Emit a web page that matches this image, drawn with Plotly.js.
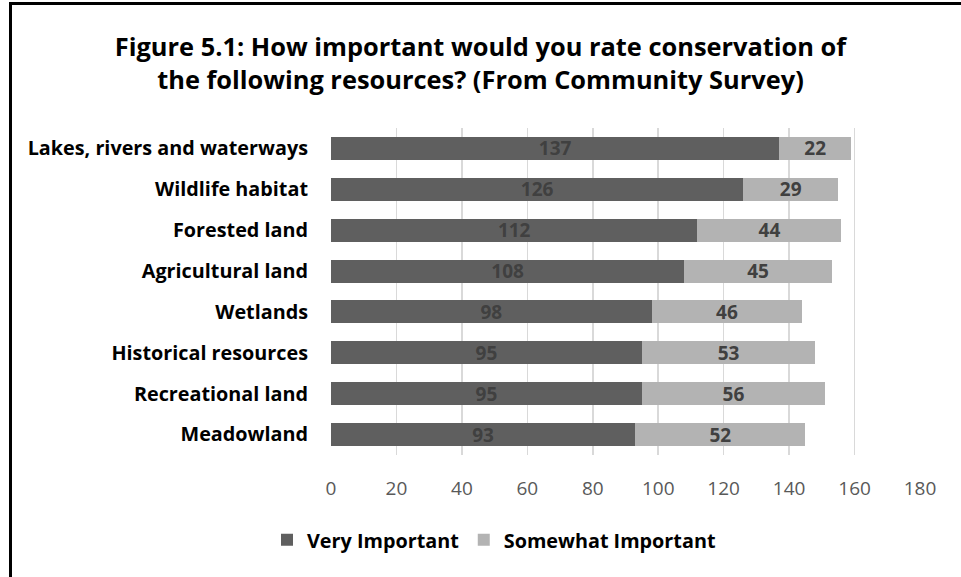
<!DOCTYPE html>
<html>
<head>
<meta charset="utf-8">
<script src="https://cdn.plot.ly/plotly-3.0.1.min.js"></script>
<style>
html, body { margin:0; padding:0; background:#fff; }
#wrap { position:relative; width:961px; height:577px; }
#chart { width:961px; height:577px; }
#frame { position:absolute; left:9px; top:2px; right:0; bottom:0; border-left:3px solid #000; border-top:3px solid #000; pointer-events:none; }
</style>
</head>
<body>
<div id="wrap"><div id="chart"></div><div id="frame"></div></div>
<script>
const categories = ["Lakes, rivers and waterways","Wildlife habitat","Forested land","Agricultural land","Wetlands","Historical resources","Recreational land","Meadowland"];
const veryImportant = [137,126,112,108,98,95,95,93];
const somewhatImportant = [22,29,44,45,46,53,56,52];
const xTicks = [0,20,40,60,80,100,120,140,160,180];

const FONT = "'Open Sans', sans-serif";

const traces = [
  {
    type:'bar', orientation:'h', name:'Very Important',
    y: categories, x: veryImportant,
    marker:{color:'#5f5f5f'},
    text: veryImportant.map(String), textposition:'inside', insidetextanchor:'middle',
    textangle:0, constraintext:'none',
    textfont:{family:FONT, size:19, color:'#404040', weight:'bold'},
    hoverinfo:'x+name'
  },
  {
    type:'bar', orientation:'h', name:'Somewhat Important',
    y: categories, x: somewhatImportant,
    marker:{color:'#b3b3b3'},
    text: somewhatImportant.map(String), textposition:'inside', insidetextanchor:'middle',
    textangle:0, constraintext:'none',
    textfont:{family:FONT, size:19, color:'#404040', weight:'bold'},
    hoverinfo:'x+name'
  }
];

const layout = {
  width:961, height:577,
  margin:{l:331, r:41, t:128, b:122},
  paper_bgcolor:'#fff', plot_bgcolor:'#fff',
  barmode:'stack', bargap:0.44,
  font:{family:FONT, color:'#000'},
  title:{
    text:'<b>Figure 5.1: How important would you rate conservation of<br>the following resources? (From Community Survey)</b>',
    font:{family:FONT, size:25.4, color:'#000'},
    x:0.5, xref:'container', xanchor:'center',
    y:1-56/577, yref:'container', yanchor:'middle'
  },
  xaxis:{
    range:[0,180], tickvals:xTicks, ticktext:xTicks.map(String),
    showgrid:true, gridcolor:'#d9d9d9', gridwidth:1.5,
    zeroline:false, showline:false,
    tickfont:{family:FONT, size:19, color:'#595959'},
    ticks:'', ticklabelstandoff:20, fixedrange:true
  },
  yaxis:{
    categoryorder:'array', categoryarray:categories, autorange:'reversed',
    showgrid:false, zeroline:false, showline:false,
    tickfont:{family:FONT, size:19.8, color:'#000', weight:'bold'},
    ticks:'', ticklabelstandoff:22, fixedrange:true
  },
  showlegend:true,
  legend:{
    orientation:'h', x:(494-331)/589, xanchor:'center',
    y:(455-540)/327, yanchor:'middle',
    font:{family:FONT, size:19.8, color:'#000', weight:'bold'},
    traceorder:'normal', itemwidth:30, bgcolor:'rgba(0,0,0,0)'
  }
};

Plotly.newPlot('chart', traces, layout, {displayModeBar:false, staticPlot:true});
</script>
</body>
</html>
